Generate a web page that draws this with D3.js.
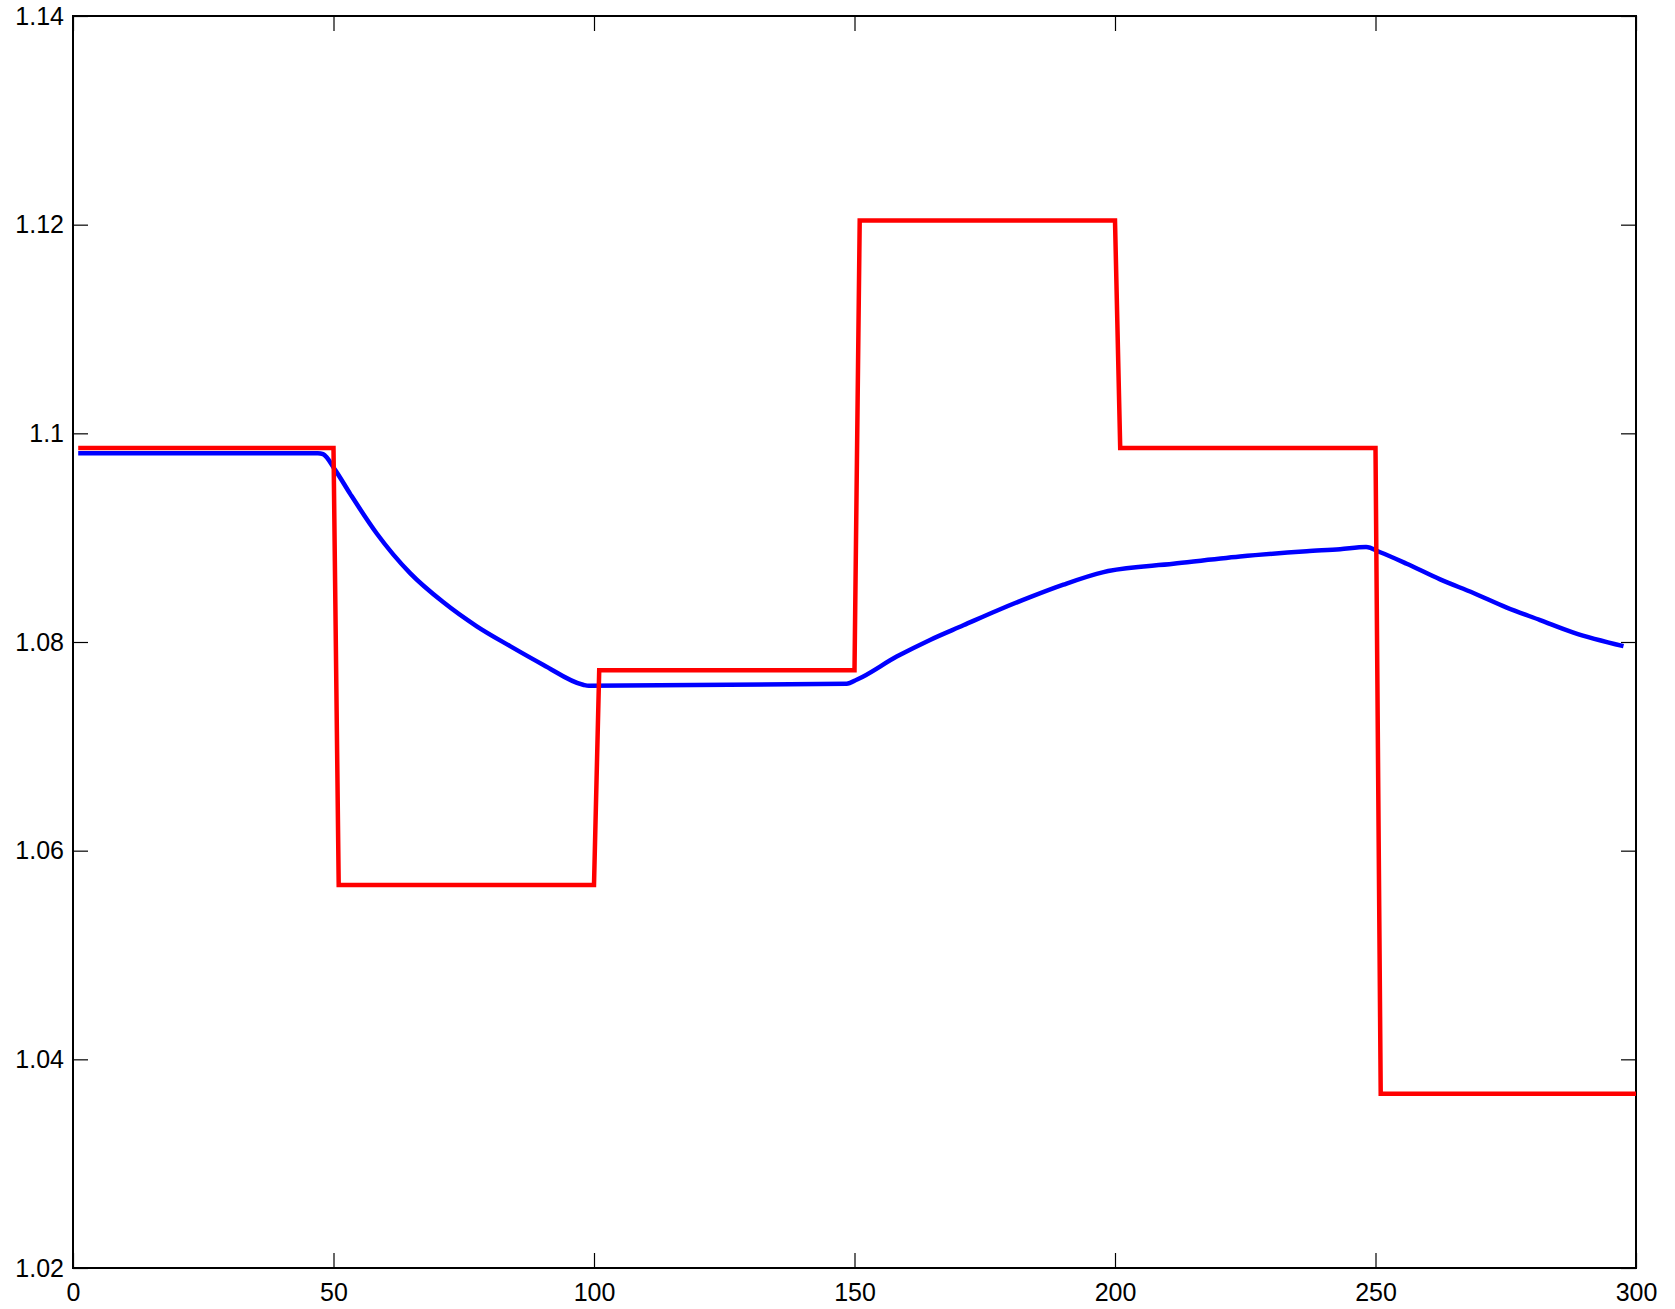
<!DOCTYPE html>
<html>
<head>
<meta charset="utf-8">
<script src="https://cdn.jsdelivr.net/npm/d3@7/dist/d3.min.js"></script>
<style>
  body { margin: 0; background: #fff; }
  svg text { font-family: "Liberation Sans", Arial, sans-serif; }
</style>
</head>
<body>
<div id="chart"></div>
<script>
// tick values
const xTicks = [0, 50, 100, 150, 200, 250, 300];
const yTicks = [1.02, 1.04, 1.06, 1.08, 1.1, 1.12, 1.14];

// red: set-point (steps between samples)
const redX = [1, 50, 51, 100, 101, 150, 151, 200, 201, 250, 251, 300];
const redY = [1.0986, 1.0986, 1.0567, 1.0567, 1.0773, 1.0773, 1.1204, 1.1204, 1.0986, 1.0986, 1.0367, 1.0367];

// blue: response
const blueX = [1, 47, 48, 50.3, 53.2, 58.3, 64.7, 71.1, 77.5, 83.9, 90.3, 97.9, 99,
               148.5, 150.5, 158.1, 164.5, 170.9, 177.3, 183.7, 190.1, 197.8, 198.7,
               211.2, 224, 236.8, 243.2, 248.2, 250.9, 256, 262.4, 268.8, 275.2, 281.6, 288, 297.6];
const blueY = [1.0981, 1.0981, 1.0980, 1.0965, 1.0942, 1.0904, 1.0866, 1.0838, 1.0815, 1.0796, 1.0778, 1.0759, 1.0758,
               1.0760, 1.0764, 1.0786, 1.0802, 1.0816, 1.0830, 1.0843, 1.0855, 1.0867, 1.0868,
               1.0875, 1.0882, 1.0887, 1.0889, 1.0891, 1.0886, 1.0875, 1.0860, 1.0847, 1.0833, 1.0821, 1.0809, 1.0796];

const width = 1675, height = 1309;
const margin = { top: 16, right: 39, bottom: 41, left: 73 };
const innerW = width - margin.left - margin.right;
const innerH = height - margin.top - margin.bottom;

const svg = d3.select('#chart')
    .append('svg')
    .attr('width', width)
    .attr('height', height);

const g = svg.append('g')
    .attr('transform', `translate(${margin.left}, ${margin.top})`);

const x = d3.scaleLinear().domain([0, 300]).range([0, innerW]);
const y = d3.scaleLinear().domain([1.02, 1.14]).range([innerH, 0]);

const fmtY = d => d3.format('.2f')(d).replace(/0$/, '');
const tickLen = 15;

// bottom axis with labels, ticks pointing inward
const xAxis = g.append('g')
    .attr('transform', `translate(0, ${innerH})`)
    .call(d3.axisBottom(x).tickValues(xTicks).tickSize(-tickLen).tickPadding(15).tickFormat(d3.format('d')));
// top ticks
const xTop = g.append('g')
    .call(d3.axisTop(x).tickValues(xTicks).tickSize(-tickLen).tickFormat(''));
// left axis with labels
const yAxis = g.append('g')
    .call(d3.axisLeft(y).tickValues(yTicks).tickSize(-tickLen).tickPadding(9).tickFormat(fmtY));
// right ticks
const yRight = g.append('g')
    .attr('transform', `translate(${innerW}, 0)`)
    .call(d3.axisRight(y).tickValues(yTicks).tickSize(-tickLen).tickFormat(''));

[xAxis, xTop, yAxis, yRight].forEach(a => {
    a.select('.domain').remove();
    a.selectAll('.tick line').attr('stroke', '#000').attr('stroke-width', 1.2);
    a.selectAll('.tick text')
        .attr('fill', '#000')
        .style('font-size', '25px');
});

// the frame
g.append('rect')
    .attr('width', innerW)
    .attr('height', innerH)
    .attr('fill', 'none')
    .attr('stroke', '#000')
    .attr('stroke-width', 2);

g.append('clipPath').attr('id', 'plotclip')
    .append('rect').attr('width', innerW).attr('height', innerH);

const lineGen = d3.line()
    .x(d => x(d[0]))
    .y(d => y(d[1]));

// blue first, red drawn over it
g.append('path')
    .datum(blueX.map((v, i) => [v, blueY[i]]))
    .attr('d', lineGen.curve(d3.curveMonotoneX))
    .attr('fill', 'none')
    .attr('stroke', '#0000ff')
    .attr('stroke-width', 4.5)
    .attr('stroke-linejoin', 'round');

g.append('path')
    .datum(redX.map((v, i) => [v, redY[i]]))
    .attr('d', lineGen.curve(d3.curveLinear))
    .attr('fill', 'none')
    .attr('stroke', '#ff0000')
    .attr('stroke-width', 4.5)
    .attr('clip-path', 'url(#plotclip)');
</script>
</body>
</html>
